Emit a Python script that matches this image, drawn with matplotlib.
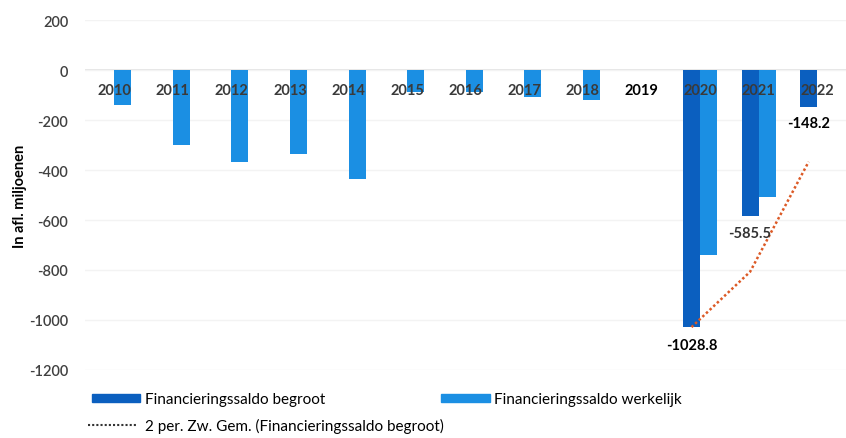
import numpy as np
import matplotlib.pyplot as plt
from matplotlib.lines import Line2D
from matplotlib.patches import Patch

plt.rcParams['font.family'] = ['Lato', 'DejaVu Sans']
plt.rcParams['axes.unicode_minus'] = False

years = ['2010', '2011', '2012', '2013', '2014', '2015', '2016', '2017', '2018',
         '2019', '2020', '2021', '2022']
begroot = [np.nan] * 10 + [-1028.8, -585.5, -148.2]
werkelijk = [-139, -300, -367, -335, -437, -89, -89, -107, -119, np.nan, -740, -509, np.nan]
ma_years = [10, 11, 12]
ma_values = [-1028.8, -807.2, -366.9]

dark = '#0b5fbf'
light = '#1b8fe3'

fig = plt.figure(figsize=(8.46, 4.39), dpi=100)
ax = fig.add_axes([0.1005, 0.155, 0.9, 0.797])

x = np.arange(len(years))
w = 0.29
ax.bar(x - w / 2, begroot, w, color=dark, zorder=2)
ax.bar(x + w / 2, werkelijk, w, color=light, zorder=2)
ax.plot(np.array(ma_years) - w / 2, ma_values, linestyle=(0, (1, 1)), color='#dc5a26',
        linewidth=1.8, zorder=3)

# year labels just under the zero line
for i, y in enumerate(years):
    c = 'black' if y == '2019' else '#3a3a3a'
    ax.text(i, -80, y, ha='center', va='center', fontsize=10.5, fontweight='bold',
            color=c, zorder=4)

# data labels
ax.text(10 - w / 2, -1100, '-1028.8', ha='center', va='center', fontsize=10.5,
        fontweight='bold', color='black', zorder=4)
ax.text(11 - w / 2, -650, '-585.5', ha='center', va='center', fontsize=10.5,
        fontweight='bold', color='#333333', zorder=4)
ax.text(12 - w / 2, -210, '-148.2', ha='center', va='center', fontsize=10.5,
        fontweight='bold', color='black', zorder=4)

ax.set_xlim(-0.5, 12.5)
ax.set_ylim(-1200, 200)
ax.set_yticks(np.arange(-1200, 201, 200))
ax.set_xticks([])
ax.tick_params(axis='y', length=0, labelsize=10.5, labelcolor='#404040', pad=12)
for t in ax.get_yticklabels():
    t.set_fontweight('semibold')
ax.grid(axis='y', color='#f3f3f3', linewidth=1, zorder=0)
ax.axhline(0, color='#e0e0e0', linewidth=1.2, zorder=1)
for s in ax.spines.values():
    s.set_visible(False)

ax.set_ylabel('In afl. miljoenen', fontsize=10.5, fontweight='bold')
ax.yaxis.set_label_coords(-0.076, 0.5)

h1 = Patch(color=dark)
h2 = Patch(color=light)
h3 = Line2D([], [], color='#333333', linestyle=(0, (1, 1)), linewidth=1.5)
fig.legend([h1], ['Financieringssaldo begroot'], loc='center left',
           bbox_to_anchor=(0.092, 0.088), frameon=False, fontsize=11,
           handlelength=3.2, handleheight=0.5, handletextpad=0.3)
fig.legend([h2], ['Financieringssaldo werkelijk'], loc='center left',
           bbox_to_anchor=(0.505, 0.088), frameon=False, fontsize=11,
           handlelength=3.2, handleheight=0.5, handletextpad=0.3)
fig.legend([h3], ['2 per. Zw. Gem. (Financieringssaldo begroot)'], loc='center left',
           bbox_to_anchor=(0.088, 0.028), frameon=False, fontsize=11,
           handlelength=3.2, handletextpad=0.5)

fig.savefig('out.png', dpi=100)
